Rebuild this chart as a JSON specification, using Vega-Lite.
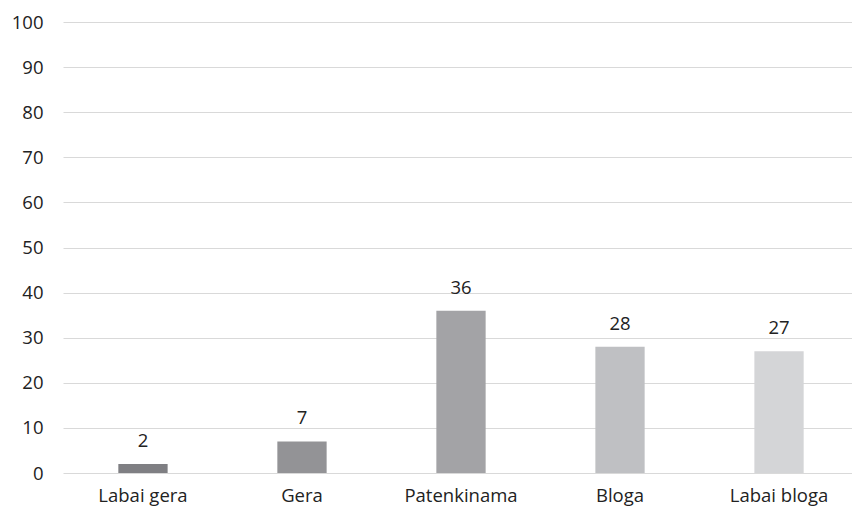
{
  "$schema": "https://vega.github.io/schema/vega-lite/v6.json",
  "width": 796,
  "height": 451,
  "autosize": {"type": "none"},
  "padding": {"left": 63, "top": 22, "right": 0, "bottom": 39},
  "background": "white",
  "config": {"view": {"stroke": null}, "font": "Open Sans"},
  "data": {"values": [
    {"cat": "Labai gera", "value": 2, "color": "#7f7f83"},
    {"cat": "Gera", "value": 7, "color": "#939396"},
    {"cat": "Patenkinama", "value": 36, "color": "#a3a3a6"},
    {"cat": "Bloga", "value": 28, "color": "#bfc0c3"},
    {"cat": "Labai bloga", "value": 27, "color": "#d4d5d7"}
  ]},
  "encoding": {
    "x": {"field": "cat", "type": "nominal", "sort": null,
      "scale": {"paddingInner": 0.69, "paddingOuter": 0.348},
      "axis": {"title": null, "labelAngle": 0, "ticks": false, "domain": false, "labelFontSize": 18.5, "labelColor": "#222222", "labelPadding": 13, "labelFont": "Open Sans"}},
    "y": {"field": "value", "type": "quantitative",
      "scale": {"domain": [0, 100]},
      "axis": {"title": null, "values": [0,10,20,30,40,50,60,70,80,90,100], "ticks": false, "domain": false, "gridColor": "#d9d9d9", "gridWidth": 1.2, "labelFontSize": 18.5, "labelColor": "#222222", "labelPadding": 20, "labelFont": "Open Sans"}}
  },
  "layer": [
    {"mark": {"type": "bar"}, "encoding": {"color": {"field": "color", "type": "nominal", "scale": null}}},
    {"mark": {"type": "text", "dy": -23, "fontSize": 18.5, "color": "#222222", "font": "Open Sans"}, "encoding": {"text": {"field": "value", "type": "quantitative"}}}
  ]
}
